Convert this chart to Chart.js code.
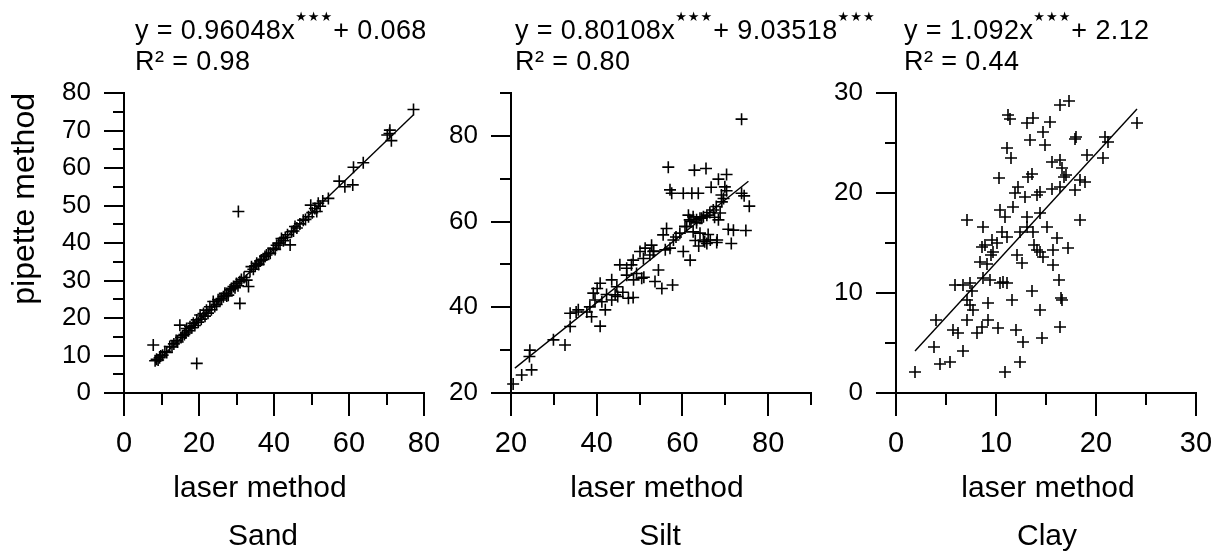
<!DOCTYPE html>
<html>
<head>
<meta charset="utf-8">
<script src="https://cdn.jsdelivr.net/npm/chart.js@4.4.1/dist/chart.umd.min.js"></script>
<style>
  html, body { margin: 0; padding: 0; background: #fff; width: 1223px; height: 551px; overflow: hidden; }
  body { position: relative; }
  canvas { position: absolute; top: 0; }
  .eq { position: absolute; font-family: 'Liberation Sans', Arial, sans-serif; font-size: 27px; line-height: 27px; letter-spacing: 0.4px; color: #000; white-space: nowrap; }
  .st { font-family: 'DejaVu Sans', sans-serif; font-size: 13px; letter-spacing: 1px; position: relative; top: -18px; }
  .lbl { position: absolute; font-family: 'Liberation Sans', Arial, sans-serif; font-size: 30px; line-height: 30px; color: #000; white-space: nowrap; transform: translateX(-50%); }
</style>
</head>
<body>
<canvas id="sand" width="479" height="551" style="left:0px"></canvas>
<canvas id="silt" width="436" height="551" style="left:430px"></canvas>
<canvas id="clay" width="421" height="551" style="left:830px"></canvas>

<div class="eq" style="left:135px; top:17px">y = 0.96048x<span class="st">★★★</span>+ 0.068</div>
<div class="eq" style="left:135px; top:48px">R² = 0.98</div>
<div class="eq" style="left:515px; top:17px">y = 0.80108x<span class="st">★★★</span>+ 9.03518<span class="st">★★★</span></div>
<div class="eq" style="left:515px; top:48px">R² = 0.80</div>
<div class="eq" style="left:904px; top:17px">y = 1.092x<span class="st">★★★</span>+ 2.12</div>
<div class="eq" style="left:904px; top:48px">R² = 0.44</div>

<div class="lbl" style="left:260px; top:472px">laser method</div>
<div class="lbl" style="left:657px; top:472px">laser method</div>
<div class="lbl" style="left:1048px; top:472px">laser method</div>
<div class="lbl" style="left:263px; top:520px">Sand</div>
<div class="lbl" style="left:660px; top:520px">Silt</div>
<div class="lbl" style="left:1047px; top:520px">Clay</div>

<script>
// laser (x) vs pipette (y)
const sandPoints = [
  [7.8,12.8],[8.3,8.6],[8.7,9.0],[9.1,8.8],[9.5,9.4],[9.8,9.9],[10.3,10.1],[10.9,11.0],[11.4,10.8],
  [12.2,12.4],[12.8,12.3],[13.3,13.1],[13.9,14.0],[14.3,13.6],[14.9,18.1],[15.2,14.8],[15.6,15.3],
  [16.1,15.6],[16.5,16.0],[16.7,17.2],[17.2,16.6],[17.6,17.7],[18.1,17.4],[18.5,18.6],[18.9,18.0],
  [19.4,19.5],[19.4,7.9],[19.8,18.9],[20.3,20.8],[20.6,19.7],[21.2,21.2],[21.6,20.5],[22.0,22.1],
  [22.4,21.3],[22.9,23.0],[23.3,22.2],[23.8,24.4],[24.2,23.1],[24.7,23.6],[25.1,24.9],[25.6,24.8],
  [26.0,25.2],[26.5,25.7],[26.9,26.6],[27.4,25.9],[27.8,26.1],[28.3,27.5],[28.7,27.9],[29.2,28.4],
  [29.6,28.1],[30.0,29.2],[30.4,28.6],[30.5,48.4],[30.9,29.7],[30.9,23.9],[31.3,30.3],[32.0,30.8],
  [32.7,30.1],[33.2,28.4],[33.6,32.4],[34.0,33.7],[34.5,33.0],[35.0,33.9],[35.4,34.6],[35.9,34.3],
  [36.3,35.2],[36.7,35.5],[37.2,35.6],[37.6,36.4],[38.0,36.8],[38.5,37.2],[39.0,37.3],[39.8,38.6],
  [40.3,38.3],[40.7,39.4],[41.2,39.9],[41.6,40.0],[42.0,41.2],[42.5,40.6],[43.0,41.5],[43.6,42.2],
  [44.3,39.5],[44.7,43.0],[45.2,43.2],[45.6,44.4],[46.1,44.0],[46.9,45.1],[47.8,46.1],[48.4,46.3],
  [49.2,47.0],[49.8,50.1],[50.2,48.1],[50.9,49.2],[51.4,48.4],[51.8,50.6],[52.3,49.8],[53.0,51.2],
  [54.5,51.9],[57.4,56.5],[58.9,55.0],[61.0,55.5],[61.2,60.2],[63.8,61.4],[70.2,68.8],[70.8,69.2],
  [70.9,70.1],[71.3,67.3],[77.2,75.6]
];
const siltPoints = [
  [20.5,22.1],[22.5,24.2],[24.8,25.4],[24.3,28.5],[24.4,30.0],[29.9,32.4],[32.6,31.2],[33.8,35.5],
  [33.8,38.6],[35.2,38.9],[35.7,39.4],[37.7,38.9],[38.4,40.1],[38.8,37.8],[39.2,43.3],[39.6,41.7],
  [40.1,44.4],[40.8,45.6],[41.2,41.3],[40.8,35.6],[42.0,39.4],[42.3,43.0],[43.5,46.4],[43.5,41.7],
  [44.3,42.9],[44.7,44.8],[44.9,42.5],[45.4,49.9],[46.1,43.5],[47.0,49.1],[47.0,47.5],[47.4,42.1],
  [48.1,49.9],[48.5,51.0],[48.5,42.3],[48.6,46.4],[49.3,47.9],[50.1,53.0],[50.5,46.8],[50.9,51.4],
  [51.0,47.0],[51.3,53.8],[52.4,52.2],[52.8,54.5],[53.2,53.0],[53.3,53.1],[53.6,46.0],[54.4,48.7],
  [55.2,44.4],[55.5,56.9],[56.0,53.4],[56.3,58.4],[56.7,72.7],[57.1,53.8],[57.1,67.4],[57.5,66.6],
  [57.7,45.2],[57.9,55.7],[58.5,56.4],[59.4,57.3],[60.2,66.6],[60.2,53.0],[60.6,58.9],[61.0,58.8],
  [61.4,61.5],[61.7,60.4],[61.8,51.0],[62.0,60.0],[62.2,66.6],[62.5,57.6],[62.5,61.1],[62.8,72.0],
  [63.0,55.6],[63.3,59.7],[63.3,60.4],[63.7,66.6],[63.8,54.3],[64.1,57.3],[64.1,60.8],[64.5,60.8],
  [64.9,61.1],[64.9,55.7],[65.2,55.3],[65.5,72.4],[65.7,61.5],[65.7,54.9],[66.0,57.0],[66.4,62.1],
  [66.5,55.7],[66.7,68.0],[67.2,62.7],[67.5,61.0],[67.9,63.5],[68.0,55.1],[68.1,55.7],[68.4,69.9],
  [68.4,60.4],[68.8,62.0],[69.1,66.2],[69.2,64.6],[69.6,65.4],[69.9,68.1],[70.3,71.0],[70.3,67.2],
  [70.7,58.2],[71.4,54.9],[71.9,58.0],[73.8,83.9],[73.8,66.6],[74.4,66.0],[74.8,57.9],[75.6,63.6]
];
const clayPoints = [
  [1.9,2.1],[3.8,4.6],[4.0,7.3],[4.4,2.9],[5.4,3.1],[5.7,6.3],[6.2,6.0],[5.9,10.8],[6.7,4.2],
  [6.7,10.8],[7.1,9.3],[7.1,7.3],[7.1,17.3],[7.4,11.0],[7.4,8.8],[7.7,8.3],[7.6,10.2],[8.1,6.0],
  [8.4,13.1],[8.6,6.6],[8.6,14.6],[8.7,16.6],[8.7,11.5],[8.9,14.8],[9.1,12.9],[9.2,7.3],[9.2,9.0],
  [9.4,11.3],[9.5,13.8],[9.6,15.3],[9.7,14.1],[10.1,15.0],[10.2,6.5],[10.3,21.5],[10.4,11.0],
  [10.4,18.3],[10.6,16.1],[10.7,11.1],[10.9,17.6],[10.9,2.1],[11.1,11.0],[11.1,15.6],[11.1,24.5],
  [11.2,27.8],[11.4,27.4],[11.5,23.5],[11.6,9.3],[11.7,18.6],[11.9,20.0],[12.0,6.3],[12.1,13.8],
  [12.2,20.6],[12.4,3.1],[12.4,16.1],[12.6,13.0],[12.7,5.1],[12.9,19.6],[13.1,17.6],[13.1,16.6],
  [13.1,27.0],[13.2,21.6],[13.4,25.3],[13.6,21.9],[13.6,10.2],[13.7,27.5],[13.7,16.1],[13.8,14.8],
  [14.1,19.8],[14.1,14.3],[14.4,18.0],[14.4,20.1],[14.4,8.3],[14.4,14.1],[14.6,5.5],[14.7,26.1],
  [14.7,13.6],[14.9,24.8],[15.1,16.6],[15.4,27.1],[15.6,20.4],[15.6,23.1],[15.7,14.3],[15.7,12.8],
  [16.1,15.5],[16.3,11.3],[16.4,28.8],[16.4,20.6],[16.4,23.3],[16.4,6.6],[16.5,9.5],[16.6,22.5],
  [16.6,9.3],[16.8,21.6],[17.0,21.8],[17.2,14.5],[17.3,29.2],[17.9,25.4],[18.0,25.6],[17.9,20.3],
  [18.4,21.3],[18.4,17.3],[18.9,21.1],[19.1,23.8],[20.7,23.5],[20.9,25.6],[21.2,25.1],[24.1,27.0]
];

// ends of the fitted lines
const sandFit = [[8.3, 8.0], [77.2, 74.2]];
const siltFit = [[20.9, 25.8], [75.4, 69.4]];
const clayFit = [[1.9, 4.2], [24.1, 28.4]];

const FONT = "'Liberation Sans', Arial, sans-serif";

// long ticks at the labelled values, short ones in between
const tickMarks = {
  id: 'tickMarks',
  afterDraw(chart) {
    const ctx = chart.ctx, area = chart.chartArea;
    const xs = chart.scales.x, ys = chart.scales.y;
    ctx.save();
    ctx.strokeStyle = '#000';
    ctx.lineWidth = 2;
    ctx.beginPath();
    xs.ticks.forEach(t => {
      const px = Math.round(xs.getPixelForValue(t.value));
      const len = t.label !== '' ? 23 : 12;
      ctx.moveTo(px, area.bottom);
      ctx.lineTo(px, area.bottom + len);
    });
    ys.ticks.forEach(t => {
      const py = Math.round(ys.getPixelForValue(t.value));
      const len = t.label !== '' ? 20 : 11;
      ctx.moveTo(area.left, py);
      ctx.lineTo(area.left - len, py);
    });
    ctx.stroke();
    ctx.restore();
  }
};

function makeChart(id, points, fit, o) {
  return new Chart(document.getElementById(id), {
    type: 'scatter',
    data: {
      datasets: [
        {
          data: points.map(p => ({x: p[0], y: p[1]})),
          pointStyle: 'cross',
          pointRadius: 6,
          borderColor: '#000',
          borderWidth: 1.6,
          clip: false
        },
        {
          type: 'line',
          data: fit.map(p => ({x: p[0], y: p[1]})),
          borderColor: '#000',
          borderWidth: 1.4,
          pointRadius: 0,
          fill: false
        }
      ]
    },
    options: {
      responsive: false,
      animation: false,
      events: [],
      // right padding has to cover the last tick label plus its padding,
      // otherwise Chart.js shrinks the plot
      layout: { padding: { top: 93, right: 55, bottom: 38, left: 0 } },
      plugins: { legend: { display: false }, tooltip: { enabled: false } },
      scales: {
        x: {
          type: 'linear',
          min: o.xMin, max: o.xMax,
          afterFit: s => { s.height = 120; },
          grid: { display: false, drawTicks: false },
          border: { display: true, color: '#000', width: 2 },
          ticks: {
            stepSize: o.xStep, autoSkip: false, maxRotation: 0, padding: 34,
            color: '#000', font: { family: FONT, size: 29 },
            callback: v => (v % o.xLabelEvery === 0 ? v : '')
          }
        },
        y: {
          type: 'linear',
          min: o.yMin, max: o.yMax,
          afterFit: s => { s.width = o.yWidth; },
          grid: { display: false, drawTicks: false },
          border: { display: true, color: '#000', width: 2 },
          title: {
            display: !!o.yTitle, text: o.yTitle || '', align: 'end',
            color: '#000', font: { family: FONT, size: 32 }, padding: { top: 6, bottom: 0 }
          },
          ticks: {
            stepSize: o.yStep, autoSkip: false, padding: 33,
            color: '#000', font: { family: FONT, size: 26 },
            callback: v => (v % o.yLabelEvery === 0 ? v : '')
          }
        }
      }
    },
    plugins: [tickMarks]
  });
}

makeChart('sand', sandPoints, sandFit, {
  xMin: 0, xMax: 80, xStep: 10, xLabelEvery: 20,
  yMin: 0, yMax: 80, yStep: 5, yLabelEvery: 10,
  yWidth: 124, yTitle: 'pipette method'
});
makeChart('silt', siltPoints, siltFit, {
  xMin: 20, xMax: 90, xStep: 10, xLabelEvery: 20,
  yMin: 20, yMax: 90, yStep: 10, yLabelEvery: 20,
  yWidth: 81
});
makeChart('clay', clayPoints, clayFit, {
  xMin: 0, xMax: 30, xStep: 5, xLabelEvery: 10,
  yMin: 0, yMax: 30, yStep: 5, yLabelEvery: 10,
  yWidth: 66
});
</script>
</body>
</html>
